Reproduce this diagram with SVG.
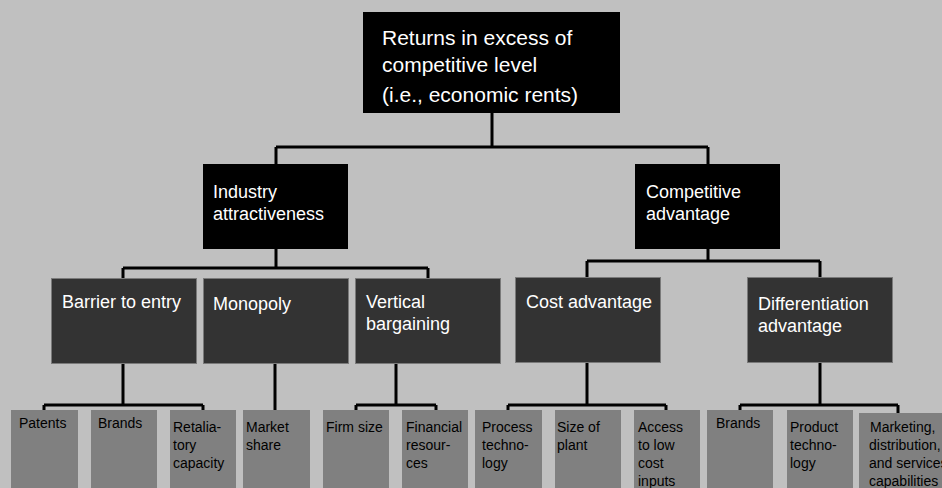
<svg xmlns="http://www.w3.org/2000/svg" width="942" height="488" viewBox="0 0 942 488">
  <style>
    .bg { fill: #c0c0c0; }
    .l1 { fill: #000000; }
    .l3 { fill: #333333; stroke: #7a7a7a; stroke-width: 1; }
    .l4 { fill: #808080; }
    .wt { fill: #ffffff; font-family: "Liberation Sans", Arial, sans-serif; }
    .bt { fill: #000000; font-family: "Liberation Sans", Arial, sans-serif; font-size: 14px; }
    .conn { fill: none; stroke: #000000; stroke-width: 3; }
  </style>
  <rect class="bg" x="0" y="0" width="942" height="488"/>

  <!-- tree connectors -->
  <g id="connectors" class="conn">
    <path d="M492,113 V147 M276,147 H708 M276,147 V164 M708,147 V164"/>
    <path d="M276,249 V268 M123,268 H428 M123,268 V278 M428,268 V278"/>
    <path d="M708,249 V261 M587,261 H820 M587,261 V277 M820,261 V277"/>
    <path d="M123,363 V405 M44,405 H203 M44,405 V410 M203,405 V410"/>
    <path d="M275,363 V410"/>
    <path d="M396,363 V405 M356,405 H436 M356,405 V410 M436,405 V410"/>
    <path d="M587,362 V405 M508,405 H666 M508,405 V410 M666,405 V410"/>
    <path d="M820,362 V405 M740,405 H898 M740,405 V410 M898,405 V413"/>
  </g>

  <!-- root -->
  <g id="returns">
    <rect class="l1" x="363" y="12" width="257" height="101"/>
    <text class="wt" font-size="21" x="382" y="45">Returns in excess of</text>
    <text class="wt" font-size="21" x="382" y="72">competitive level</text>
    <text class="wt" font-size="21" x="382" y="102">(i.e., economic rents)</text>
  </g>

  <!-- second level -->
  <g id="industry">
    <rect class="l1" x="203" y="164" width="145" height="85"/>
    <text class="wt" font-size="18" x="213" y="198">Industry</text>
    <text class="wt" font-size="18" x="213" y="220">attractiveness</text>
  </g>
  <g id="competitive">
    <rect class="l1" x="635" y="164" width="145" height="85"/>
    <text class="wt" font-size="18" x="646" y="198">Competitive</text>
    <text class="wt" font-size="18" x="646" y="220">advantage</text>
  </g>

  <!-- third level -->
  <g id="barrier">
    <rect class="l3" x="51.5" y="278.5" width="145" height="85"/>
    <text class="wt" font-size="18" x="62" y="308">Barrier to entry</text>
  </g>
  <g id="monopoly">
    <rect class="l3" x="203.5" y="278.5" width="145" height="85"/>
    <text class="wt" font-size="18" x="213" y="310">Monopoly</text>
  </g>
  <g id="vertical">
    <rect class="l3" x="355.5" y="278.5" width="145" height="85"/>
    <text class="wt" font-size="18" x="366" y="308">Vertical</text>
    <text class="wt" font-size="18" x="366" y="330">bargaining</text>
  </g>
  <g id="cost">
    <rect class="l3" x="515.5" y="277.5" width="145" height="85"/>
    <text class="wt" font-size="18" x="526" y="308">Cost advantage</text>
  </g>
  <g id="differentiation">
    <rect class="l3" x="747.5" y="277.5" width="145" height="85"/>
    <text class="wt" font-size="18" x="758" y="310">Differentiation</text>
    <text class="wt" font-size="18" x="758" y="332">advantage</text>
  </g>

  <!-- leaves -->
  <g id="patents">
    <rect class="l4" x="11" y="410" width="67" height="78"/>
    <text class="bt" x="19" y="428">Patents</text>
  </g>
  <g id="brands-1">
    <rect class="l4" x="91" y="410" width="66" height="78"/>
    <text class="bt" x="98" y="428">Brands</text>
  </g>
  <g id="retaliatory">
    <rect class="l4" x="170" y="410" width="66" height="78"/>
    <text class="bt" x="173" y="432">Retalia-</text>
    <text class="bt" x="173" y="450">tory</text>
    <text class="bt" x="173" y="468">capacity</text>
  </g>
  <g id="market-share">
    <rect class="l4" x="243" y="410" width="67" height="78"/>
    <text class="bt" x="246" y="432">Market</text>
    <text class="bt" x="246" y="450">share</text>
  </g>
  <g id="firm-size">
    <rect class="l4" x="323" y="410" width="66" height="78"/>
    <text class="bt" x="326" y="432">Firm size</text>
  </g>
  <g id="financial">
    <rect class="l4" x="402" y="410" width="66" height="78"/>
    <text class="bt" x="406" y="432">Financial</text>
    <text class="bt" x="406" y="450">resour-</text>
    <text class="bt" x="406" y="468">ces</text>
  </g>
  <g id="process">
    <rect class="l4" x="475" y="410" width="67" height="78"/>
    <text class="bt" x="482" y="432">Process</text>
    <text class="bt" x="482" y="450">techno-</text>
    <text class="bt" x="482" y="468">logy</text>
  </g>
  <g id="plant-size">
    <rect class="l4" x="555" y="410" width="66" height="78"/>
    <text class="bt" x="557" y="432">Size of</text>
    <text class="bt" x="557" y="450">plant</text>
  </g>
  <g id="access">
    <rect class="l4" x="634" y="410" width="66" height="78"/>
    <text class="bt" x="638" y="432">Access</text>
    <text class="bt" x="638" y="450">to low</text>
    <text class="bt" x="638" y="468">cost</text>
    <text class="bt" x="638" y="486">inputs</text>
  </g>
  <g id="brands-2">
    <rect class="l4" x="707" y="410" width="66" height="78"/>
    <text class="bt" x="716" y="428">Brands</text>
  </g>
  <g id="product">
    <rect class="l4" x="787" y="410" width="66" height="78"/>
    <text class="bt" x="790" y="432">Product</text>
    <text class="bt" x="790" y="450">techno-</text>
    <text class="bt" x="790" y="468">logy</text>
  </g>
  <g id="marketing">
    <rect class="l4" x="859" y="413" width="83" height="75"/>
    <text class="bt" x="870" y="432">Marketing,</text>
    <text class="bt" x="869" y="450">distribution,</text>
    <text class="bt" x="869" y="468">and services</text>
    <text class="bt" x="869" y="486">capabilities</text>
  </g>
</svg>
